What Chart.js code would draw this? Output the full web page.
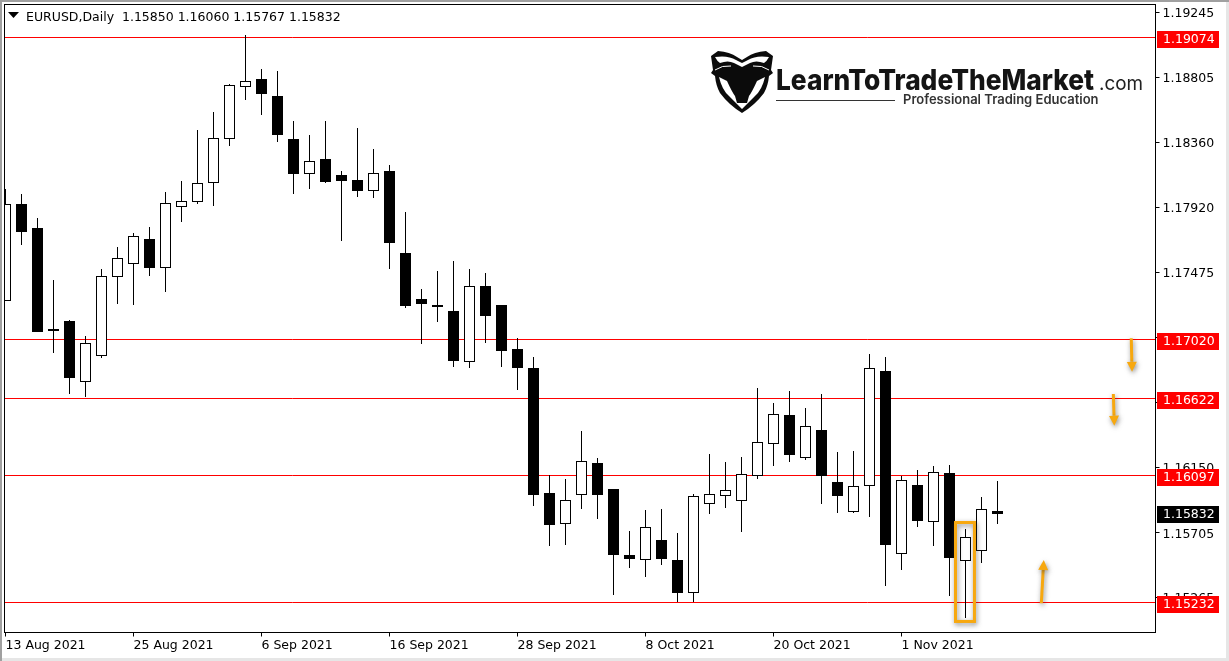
<!DOCTYPE html>
<html lang="en">
<head>
    <title>EURUSD,Daily</title>
    <meta charset="UTF-8">
    <style>
        html, body { margin: 0; padding: 0; background: #fff; overflow: hidden; }
        canvas { display: block; }
    </style>
</head>
<body>
<canvas id="chart" width="1229" height="661"></canvas>
<script src="https://cdn.jsdelivr.net/npm/chart.js@4"></script>
<script>
    const opens = [1.17282, 1.17942, 1.17779, 1.17092, 1.17146, 1.16731, 1.16908, 1.17445, 1.17534, 1.17704, 1.17507,
        1.17921, 1.17955, 1.18085, 1.18384, 1.18737, 1.18792, 1.18676, 1.18384, 1.18146, 1.18248, 1.18139, 1.18105,
        1.18030, 1.18166, 1.17609, 1.17296, 1.17255, 1.17214, 1.16867, 1.17384, 1.17255, 1.16956, 1.16827, 1.15977,
        1.15766, 1.15963, 1.16181, 1.16004, 1.15555, 1.15521, 1.15657, 1.15521, 1.15297, 1.15902, 1.15956, 1.15922,
        1.16092, 1.16310, 1.16507, 1.16215, 1.16405, 1.16051, 1.15847, 1.16024, 1.16806, 1.15562, 1.16031, 1.15779,
        1.16113, 1.15514, 1.15582, 1.15850];
    const highs = [1.18044, 1.18010, 1.17847, 1.17425, 1.17153, 1.17044, 1.17500, 1.17649, 1.17745, 1.17785, 1.18023,
        1.18098, 1.18445, 1.18567, 1.18758, 1.19091, 1.18860, 1.18846, 1.18506, 1.18411, 1.18506, 1.18166, 1.18459,
        1.18316, 1.18207, 1.17887, 1.17364, 1.17486, 1.17554, 1.17500, 1.17473, 1.17255, 1.17031, 1.16901, 1.16099,
        1.16072, 1.16398, 1.16215, 1.16004, 1.15718, 1.15861, 1.15868, 1.15705, 1.15970, 1.16242, 1.16187, 1.16221,
        1.16691, 1.16589, 1.16670, 1.16555, 1.16650, 1.16255, 1.16262, 1.16922, 1.16901, 1.16092, 1.16133, 1.16160,
        1.16167, 1.15732, 1.15949, 1.16060];
    const lows = [1.17282, 1.17663, 1.17071, 1.16929, 1.16650, 1.16629, 1.16895, 1.17262, 1.17255, 1.17452, 1.17343,
        1.17819, 1.17942, 1.17928, 1.18336, 1.18649, 1.18547, 1.18363, 1.18010, 1.18044, 1.18085, 1.17690, 1.17989,
        1.17983, 1.17500, 1.17235, 1.16990, 1.17139, 1.16833, 1.16827, 1.16997, 1.16833, 1.16677, 1.15888, 1.15616,
        1.15623, 1.15868, 1.15800, 1.15283, 1.15467, 1.15405, 1.15487, 1.15235, 1.15235, 1.15834, 1.15875, 1.15711,
        1.16072, 1.16160, 1.16187, 1.16201, 1.15902, 1.15841, 1.15841, 1.15813, 1.15344, 1.15453, 1.15745, 1.15616,
        1.15276, 1.15127, 1.15501, 1.15767];
    const closes = [1.17942, 1.17751, 1.17071, 1.17078, 1.16759, 1.16997, 1.17452, 1.17575, 1.17724, 1.17507, 1.17949,
        1.17962, 1.18085, 1.18391, 1.18751, 1.18778, 1.18690, 1.18411, 1.18146, 1.18234, 1.18091, 1.18098, 1.18030,
        1.18153, 1.17677, 1.17248, 1.17262, 1.17241, 1.16874, 1.17384, 1.17180, 1.16942, 1.16827, 1.15963, 1.15759,
        1.15929, 1.16194, 1.15963, 1.15555, 1.15528, 1.15745, 1.15528, 1.15297, 1.15956, 1.15970, 1.15997, 1.16106,
        1.16323, 1.16514, 1.16235, 1.16432, 1.16092, 1.15956, 1.16024, 1.16827, 1.15623, 1.16065, 1.15786, 1.16119,
        1.15535, 1.15677, 1.15868, 1.15832];

    // bar number on the time axis -> date label
    const dateTickBars = [0, 8, 16, 24, 32, 40, 48, 56];
    const dateTickLabels = ['13 Aug 2021', '25 Aug 2021', '6 Sep 2021', '16 Sep 2021', '28 Sep 2021', '8 Oct 2021', '20 Oct 2021', '1 Nov 2021'];
    const priceTicks = [1.19245, 1.18805, 1.18360, 1.17920, 1.17475, 1.17035, 1.16595, 1.16150, 1.15705, 1.15265];
    // these two sit fully under the red price labels
    const coveredTicks = [1.17035, 1.16595];

    const levels = [1.19074, 1.17020, 1.16622, 1.16097, 1.15232];
    const lastPrice = 1.15832;
    const titleText = 'EURUSD,Daily  1.15850 1.16060 1.15767 1.15832';

    // hand drawn marks, in bars / price
    const boxBars = [59.375, 60.56];
    const boxPrices = [1.15776, 1.15103];
    const arrowBarsFrom = [70.36, 69.24, 64.74];
    const arrowBarsTo = [70.41, 69.30, 64.89];
    const arrowPricesFrom = [1.17029, 1.16650, 1.15227];
    const arrowPricesTo = [1.16801, 1.16434, 1.15521];

    const barAxisMin = -0.0625, barAxisMax = 71.875;
    const priceAxisMin = 1.15028, priceAxisMax = 1.192984;

    const orange = '#f7a80f';
    const font = '"DejaVu Sans", sans-serif';
    const fontSize = 12.5;

    const bars = opens.map((o, i) => i);

    // MT4 draws on whole pixels, so snap what the scales give us
    const snapPlugin = {
        id: 'snap',
        beforeDatasetsDraw(chart) {
            chart.getSortedVisibleDatasetMetas().forEach(meta => {
                meta.data.forEach(el => {
                    if (meta.type === 'bar') {
                        const top = Math.floor(Math.min(el.y, el.base) + 0.3);
                        const bottom = Math.ceil(Math.max(el.y, el.base) - 0.3);
                        el.y = top;
                        el.base = bottom;
                        el.height = bottom - top;
                    } else {
                        el.y = Math.floor(el.y) + 0.5;
                    }
                });
            });
        }
    };

    function drawLogo(ctx) {
        ctx.save();
        // shield
        ctx.fillStyle = '#0b0b0b';
        ctx.beginPath();
        ctx.moveTo(711, 56);
        ctx.lineTo(718, 51);
        ctx.quadraticCurveTo(730, 52, 737, 57);
        ctx.lineTo(742, 60);
        ctx.lineTo(747, 57);
        ctx.quadraticCurveTo(754, 52, 766, 51);
        ctx.lineTo(773, 56);
        ctx.lineTo(771, 70);
        ctx.lineTo(773, 73);
        ctx.lineTo(769, 76);
        ctx.quadraticCurveTo(768, 86, 764, 93);
        ctx.quadraticCurveTo(755, 105, 742, 113);
        ctx.quadraticCurveTo(729, 105, 720, 93);
        ctx.quadraticCurveTo(716, 86, 715, 76);
        ctx.lineTo(711, 73);
        ctx.lineTo(713, 70);
        ctx.closePath();
        ctx.fill();
        ctx.fillStyle = '#fff';
        // horns
        ctx.beginPath();
        ctx.moveTo(715, 57);
        ctx.quadraticCurveTo(728, 55, 736, 60);
        ctx.lineTo(742, 63);
        ctx.lineTo(748, 60);
        ctx.quadraticCurveTo(756, 55, 769, 57);
        ctx.quadraticCurveTo(767, 61, 764, 63);
        ctx.quadraticCurveTo(756, 60, 750, 63);
        ctx.lineTo(742, 67);
        ctx.lineTo(734, 63);
        ctx.quadraticCurveTo(728, 60, 720, 63);
        ctx.quadraticCurveTo(717, 61, 715, 57);
        ctx.closePath();
        ctx.fill();
        // cheeks
        ctx.beginPath();
        ctx.moveTo(719, 77);
        ctx.quadraticCurveTo(722, 90, 729, 96);
        ctx.lineTo(742, 109);
        ctx.lineTo(755, 96);
        ctx.quadraticCurveTo(762, 90, 765, 77);
        ctx.lineTo(757, 81);
        ctx.quadraticCurveTo(752, 92, 749, 96);
        ctx.lineTo(747, 103);
        ctx.lineTo(737, 103);
        ctx.lineTo(735, 96);
        ctx.quadraticCurveTo(732, 92, 727, 81);
        ctx.closePath();
        ctx.fill();
        // ears
        ctx.strokeStyle = '#fff';
        ctx.lineWidth = 1;
        ctx.beginPath();
        ctx.moveTo(715, 70);
        ctx.quadraticCurveTo(722, 65, 731, 66);
        ctx.moveTo(769, 70);
        ctx.quadraticCurveTo(762, 65, 753, 66);
        ctx.stroke();
        ctx.restore();

        ctx.save();
        ctx.fillStyle = '#141414';
        ctx.textBaseline = 'alphabetic';
        ctx.font = '800 29px Inter, sans-serif';
        ctx.fillText('LearnToTradeTheMarket', 776, 90, 318);
        ctx.fillStyle = '#222';
        ctx.font = '400 20px Inter, sans-serif';
        ctx.fillText('.com', 1099, 90, 44);
        ctx.fillStyle = '#333';
        ctx.font = '600 13px Inter, sans-serif';
        ctx.fillText('Professional Trading Education', 903, 104, 196);
        ctx.fillStyle = '#333';
        ctx.fillRect(776, 100, 119, 1);
        ctx.restore();
    }

    function drawArrow(ctx, x1, y1, x2, y2) {
        const a = Math.atan2(y2 - y1, x2 - x1);
        const bx = x2 - Math.cos(a) * 10, by = y2 - Math.sin(a) * 10;
        ctx.lineWidth = 3;
        ctx.beginPath();
        ctx.moveTo(x1, y1);
        ctx.lineTo(bx, by);
        ctx.stroke();
        ctx.beginPath();
        ctx.moveTo(x2, y2);
        ctx.lineTo(bx + Math.sin(a) * 5, by - Math.cos(a) * 5);
        ctx.lineTo(bx - Math.sin(a) * 5, by + Math.cos(a) * 5);
        ctx.closePath();
        ctx.fill();
    }

    const overlayPlugin = {
        id: 'overlay',
        beforeDraw(chart) {
            // window edges
            const ctx = chart.ctx;
            ctx.save();
            ctx.fillStyle = '#e6e6e6';
            ctx.fillRect(1226, 0, 3, 661);
            ctx.fillRect(0, 658, 1229, 3);
            ctx.fillStyle = '#a0a0a0';
            ctx.fillRect(0, 0, 1229, 2);
            ctx.fillRect(0, 0, 2, 661);
            ctx.restore();
        },
        afterDatasetsDraw(chart) {
            const ctx = chart.ctx;
            const area = chart.chartArea;
            const x = chart.scales.x, y = chart.scales.y;
            ctx.save();
            ctx.strokeStyle = '#000';
            ctx.lineWidth = 1;
            ctx.strokeRect(area.left, area.top, area.right - area.left, area.bottom - area.top);

            // orange box + arrows with their soft shadow
            ctx.shadowColor = 'rgba(60,60,60,0.6)';
            ctx.shadowBlur = 5;
            ctx.shadowOffsetX = 1;
            ctx.shadowOffsetY = 2;
            ctx.strokeStyle = orange;
            ctx.fillStyle = orange;
            ctx.lineWidth = 3;
            const bx = x.getPixelForValue(boxBars[0]), bx2 = x.getPixelForValue(boxBars[1]);
            const by = y.getPixelForValue(boxPrices[0]), by2 = y.getPixelForValue(boxPrices[1]);
            ctx.strokeRect(bx, by, bx2 - bx, by2 - by);
            arrowBarsFrom.forEach((b, i) => {
                drawArrow(ctx, x.getPixelForValue(b), y.getPixelForValue(arrowPricesFrom[i]),
                    x.getPixelForValue(arrowBarsTo[i]), y.getPixelForValue(arrowPricesTo[i]));
            });
            ctx.restore();

            drawLogo(ctx);

            // symbol line
            ctx.save();
            ctx.fillStyle = '#000';
            ctx.beginPath();
            ctx.moveTo(8, 12);
            ctx.lineTo(19, 12);
            ctx.lineTo(13.5, 18);
            ctx.closePath();
            ctx.fill();
            ctx.font = fontSize + 'px ' + font;
            ctx.textBaseline = 'alphabetic';
            ctx.fillText(titleText, 26, 21);

            // price labels
            ctx.textBaseline = 'middle';
            levels.forEach(level => {
                const top = Math.floor(y.getPixelForValue(level)) - 6;
                ctx.fillStyle = '#f00';
                ctx.fillRect(1157, top, 62, 17);
                ctx.fillStyle = '#fff';
                ctx.fillText(level.toFixed(5), 1163, top + 9);
            });
            const top = Math.round(y.getPixelForValue(lastPrice)) - 8;
            ctx.fillStyle = '#000';
            ctx.fillRect(1157, top, 62, 17);
            ctx.fillStyle = '#fff';
            ctx.fillText(lastPrice.toFixed(5), 1163, top + 9);
            ctx.restore();
        }
    };

    const levelDatasets = levels.map(level => ({
        type: 'line',
        data: [{ x: barAxisMin, y: level }, { x: barAxisMax, y: level }],
        borderColor: '#f00',
        borderWidth: 1,
        pointRadius: 0,
        order: 3
    }));

    new Chart(document.getElementById('chart').getContext('2d'), {
        type: 'bar',
        data: {
            datasets: [
                {
                    label: 'body',
                    data: bars.map(i => ({ x: i, y: [opens[i], closes[i]] })),
                    backgroundColor: bars.map(i => closes[i] > opens[i] ? '#fff' : '#000'),
                    borderColor: '#000',
                    borderWidth: 1,
                    borderSkipped: false,
                    inflateAmount: 0,
                    barThickness: 11,
                    grouped: false,
                    order: 1
                },
                {
                    label: 'wick',
                    data: bars.map(i => ({ x: i, y: [lows[i], highs[i]] })),
                    backgroundColor: '#000',
                    borderWidth: 0,
                    inflateAmount: 0,
                    barThickness: 1,
                    grouped: false,
                    order: 2
                },
                ...levelDatasets
            ]
        },
        options: {
            responsive: false,
            animation: false,
            events: [],
            layout: { padding: { left: 4.5, top: 4.5, right: 0, bottom: 0 } },
            plugins: { legend: { display: false }, tooltip: { enabled: false } },
            scales: {
                x: {
                    type: 'linear',
                    min: barAxisMin,
                    max: barAxisMax,
                    offset: false,
                    afterBuildTicks: scale => { scale.ticks = dateTickBars.map(value => ({ value })); },
                    afterFit: scale => {
                        scale.height = 28.5;
                        scale.paddingLeft = scale.paddingRight = 0;
                    },
                    border: { display: false },
                    grid: { offset: false, drawOnChartArea: false, drawTicks: true, tickLength: 4, tickColor: '#000', tickWidth: 1 },
                    ticks: {
                        callback: value => dateTickLabels[dateTickBars.indexOf(value)],
                        align: 'start',
                        autoSkip: false,
                        maxRotation: 0,
                        minRotation: 0,
                        padding: 2,
                        color: '#000',
                        font: { family: font, size: fontSize }
                    }
                },
                y: {
                    type: 'linear',
                    position: 'right',
                    min: priceAxisMin,
                    max: priceAxisMax,
                    afterBuildTicks: scale => { scale.ticks = priceTicks.map(value => ({ value })); },
                    afterFit: scale => {
                        scale.width = 73.5;
                        scale.paddingTop = scale.paddingBottom = 0;
                    },
                    border: { display: false },
                    grid: { drawOnChartArea: false, drawTicks: true, tickLength: 4, tickColor: '#000', tickWidth: 1 },
                    ticks: {
                        callback: value => coveredTicks.includes(value) ? '' : value.toFixed(5),
                        padding: 3,
                        labelOffset: 1.5,
                        color: '#000',
                        font: { family: font, size: fontSize }
                    }
                }
            }
        },
        plugins: [snapPlugin, overlayPlugin]
    });
</script>
</body>
</html>
